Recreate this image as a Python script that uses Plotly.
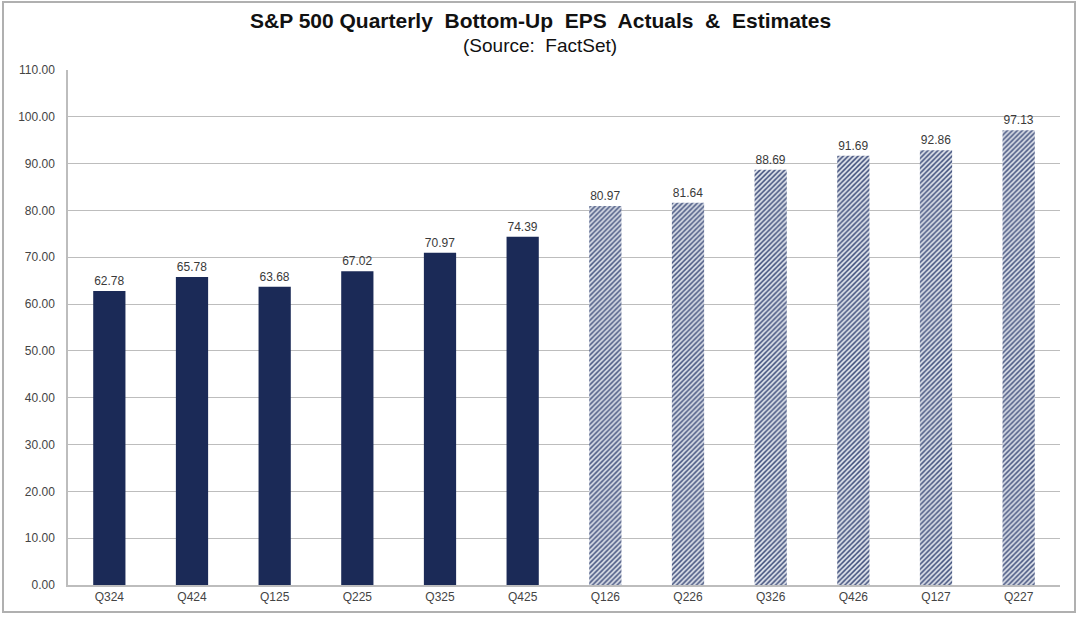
import plotly.graph_objects as go

quarters = ["Q324", "Q424", "Q125", "Q225", "Q325", "Q425",
            "Q126", "Q226", "Q326", "Q426", "Q127", "Q227"]
eps = [62.78, 65.78, 63.68, 67.02, 70.97, 74.39,
       80.97, 81.64, 88.69, 91.69, 92.86, 97.13]
is_estimate = [False] * 6 + [True] * 6

act_x = [q for q, e in zip(quarters, is_estimate) if not e]
act_y = [v for v, e in zip(eps, is_estimate) if not e]
est_x = [q for q, e in zip(quarters, is_estimate) if e]
est_y = [v for v, e in zip(eps, is_estimate) if e]

navy = "#1b2a57"
label_font = dict(family="Arial, Liberation Sans", size=12, color="#3a3a3a")

fig = go.Figure()
fig.add_trace(go.Bar(
    x=act_x, y=act_y, marker=dict(color=navy, line=dict(width=0)),
    text=[f"{v:.2f}" for v in act_y], textposition="outside",
    textfont=label_font, cliponaxis=False, showlegend=False,
))
fig.add_trace(go.Bar(
    x=est_x, y=est_y,
    marker=dict(color="#d9dde6", line=dict(width=0),
                pattern=dict(shape="/", fgcolor="#45547f", bgcolor="#dde1ea",
                             size=3.5, solidity=0.45, fillmode="replace")),
    text=[f"{v:.2f}" for v in est_y], textposition="outside",
    textfont=label_font, cliponaxis=False, showlegend=False,
))

fig.update_layout(
    width=1080, height=617,
    margin=dict(l=68, r=20, t=70, b=32),
    paper_bgcolor="white", plot_bgcolor="white",
    barmode="overlay", bargap=0.61,
    font=dict(family="Arial, Liberation Sans", color="#333333"),
    annotations=[
        dict(text="<b>S&P 500 Quarterly  Bottom-Up  EPS  Actuals  &  Estimates</b>",
             xref="paper", yref="paper", x=(540 - 68) / 992, y=(585 - 20) / 515,
             xanchor="center", yanchor="middle", showarrow=False,
             font=dict(family="Arial, Liberation Sans", size=21, color="#111111")),
        dict(text="(Source:  FactSet)",
             xref="paper", yref="paper", x=(540 - 68) / 992, y=(585 - 45) / 515,
             xanchor="center", yanchor="middle", showarrow=False,
             font=dict(family="Arial, Liberation Sans", size=19, color="#111111")),
    ],
    xaxis=dict(
        categoryorder="array", categoryarray=quarters,
        showline=True, linecolor="#bdbdbd", linewidth=1.5,
        showgrid=False, ticks="",
        tickfont=dict(family="Arial, Liberation Sans", size=12, color="#444444"),
    ),
    yaxis=dict(
        range=[0, 110], dtick=10, tickformat=".2f",
        showline=True, linecolor="#bdbdbd", linewidth=1.5,
        showgrid=True, gridcolor="#bdbdbd", gridwidth=1.2,
        ticks="", ticklabelstandoff=9,
        tickfont=dict(family="Arial, Liberation Sans", size=12, color="#444444"),
        zeroline=False,
    ),
    shapes=[dict(
        type="rect", xref="paper", yref="paper",
        x0=(3 - 68) / 992, x1=(1075 - 68) / 992,
        y0=(585 - 612) / 515, y1=(585 - 2) / 515,
        line=dict(color="#b0b0b0", width=2), fillcolor="rgba(0,0,0,0)",
        layer="below",
    )],
)

fig.write_html("out.html")
